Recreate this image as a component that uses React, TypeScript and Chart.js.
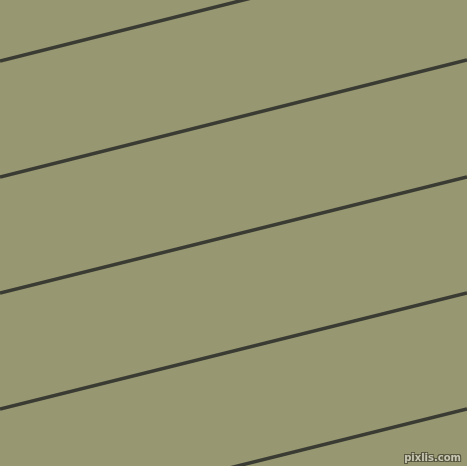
import React, { useEffect, useRef } from 'react';
import Chart from 'chart.js/auto';

// stripe lines: y (from top, px units) where each line meets the left and right edge
const lineIds = ['s1', 's2', 's3', 's4', 's5'];
const leftY = [61, 177, 293, 409, 525];
const rightY = [-56, 60, 177, 293, 409];
const edgeX = [0, 467];

const bgColor = '#979771';
const lineColor = '#3a3b33';

export default function App() {
    const canvasRef = useRef<HTMLCanvasElement>(null);
    const chartRef = useRef<Chart | null>(null);

    useEffect(() => {
        const ctx = canvasRef.current?.getContext('2d');
        if (!ctx) return;

        chartRef.current = new Chart(ctx, {
            type: 'line',
            data: {
                datasets: lineIds.map((id, i) => ({
                    label: id,
                    data: [
                        { x: edgeX[0], y: leftY[i] },
                        { x: edgeX[1], y: rightY[i] },
                    ],
                    borderColor: lineColor,
                    borderWidth: 3.5,
                    pointRadius: 0,
                    fill: false,
                })),
            },
            options: {
                animation: false,
                responsive: false,
                maintainAspectRatio: false,
                layout: { padding: 0 },
                plugins: {
                    legend: { display: false },
                    tooltip: { enabled: false },
                },
                scales: {
                    x: { type: 'linear', min: 0, max: 467, display: false },
                    y: { type: 'linear', min: 0, max: 466, reverse: true, display: false },
                },
            },
        });

        return () => {
            chartRef.current?.destroy();
            chartRef.current = null;
        };
    }, []);

    return (
        <div style={{ position: 'fixed', left: 0, top: 0, width: 467, height: 466, background: bgColor, overflow: 'hidden' }}>
            <canvas ref={canvasRef} width={467} height={466} style={{ display: 'block' }} />
            <div
                style={{
                    position: 'absolute',
                    right: 6,
                    bottom: 3,
                    fontFamily: '"DejaVu Sans", sans-serif',
                    fontSize: 10,
                    fontWeight: 'bold',
                    color: '#c8c8b4',
                    textShadow: '1px 1px 0 #55553f, -1px -1px 0 #55553f, 1px -1px 0 #55553f, -1px 1px 0 #55553f',
                }}
            >
                pixlis.com
            </div>
        </div>
    );
}
